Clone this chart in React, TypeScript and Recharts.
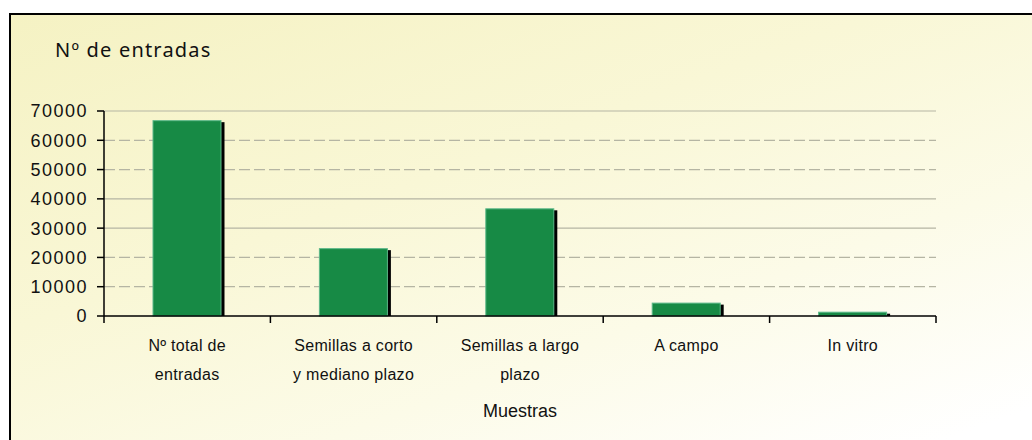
import React from 'react';
import { BarChart, Bar, XAxis, YAxis, CartesianGrid, Label } from 'recharts';

const categories = ['Nº total de\nentradas', 'Semillas a corto\ny mediano plazo', 'Semillas a largo\nplazo', 'A campo', 'In vitro'];
const values = [66700, 23000, 36600, 4400, 1300];
const yTicks = [0, 10000, 20000, 30000, 40000, 50000, 60000, 70000];
const solidGridValues = [70000, 40000, 30000];
const dashedGridValues = [60000, 50000, 20000, 10000];
const yAxisTitle = 'Nº de entradas';
const xAxisTitle = 'Muestras';

const data = categories.map((c, i) => ({ name: c, value: values[i] }));

const FONT = '"Liberation Sans", Arial, sans-serif';

const ShadowBar = (props: any) => {
  const { x, y, width, height } = props;
  if (!height || height <= 0) return null;
  return (
    <g>
      <rect x={x + 3.5} y={y + 1.5} width={width} height={Math.max(0, height - 1.5)} fill="#000000" />
      <rect x={x} y={y} width={width} height={height} fill="#178a45" stroke="#5cb889" strokeWidth={1} />
    </g>
  );
};

const CategoryTick = (props: any) => {
  const { x, y, payload, index } = props;
  const half = payload && typeof payload.offset === 'number' ? payload.offset : 0;
  const lines = String(payload.value).split('\n');
  const isLast = index === categories.length - 1;
  return (
    <g>
      <line x1={x - half} x2={x - half} y1={y} y2={y + 7} stroke="#000" strokeWidth={1.5} />
      {isLast && <line x1={x + half} x2={x + half} y1={y} y2={y + 7} stroke="#000" strokeWidth={1.5} />}
      <text x={x} y={y} textAnchor="middle" fill="#111111" fontSize={16} fontFamily={FONT} letterSpacing={0.3}>
        {lines.map((l, i) => (
          <tspan key={i} x={x} dy={i === 0 ? 35 : 29}>{l}</tspan>
        ))}
      </text>
    </g>
  );
};

export default function App() {
  return (
    <div style={{ position: 'absolute', left: 0, top: 0, width: 1032, height: 440, overflow: 'hidden', background: '#ffffff' }}>
      <div
        style={{
          position: 'absolute',
          left: 9,
          top: 13,
          width: 1100,
          height: 500,
          borderLeft: '2px solid #000',
          borderTop: '2px solid #000',
          background: 'linear-gradient(160deg, #f5f2c3 0%, #f9f7d6 35%, #fcfbe8 60%, #ffffff 85%)',
        }}
      />
      <div
        style={{
          position: 'absolute',
          left: 55,
          top: 36,
          fontFamily: '"Noto Sans", "Open Sans", sans-serif',
          fontSize: 20,
          letterSpacing: 1.2,
          color: '#111111',
          whiteSpace: 'nowrap',
        }}
      >
        {yAxisTitle}
      </div>
      <div style={{ position: 'absolute', left: 0, top: 0 }}>
        <BarChart width={1032} height={440} data={data} margin={{ top: 111, right: 96, bottom: 0, left: 44 }}>
          <CartesianGrid
            vertical={false}
            horizontalValues={solidGridValues}
            stroke="#b5b5a3"
            strokeWidth={1.2}
          />
          <CartesianGrid
            vertical={false}
            horizontalValues={dashedGridValues}
            stroke="#b5b5a3"
            strokeWidth={1.2}
            strokeDasharray="11 4"
          />
          <XAxis
            dataKey="name"
            height={124}
            axisLine={{ stroke: '#000', strokeWidth: 1.5 }}
            tickLine={false}
            tickSize={0}
            tickMargin={0}
            interval={0}
            tick={CategoryTick}
          >
            <Label
              value={xAxisTitle}
              position="insideBottom"
              offset={23}
              fill="#111111"
              fontSize={18}
              fontFamily={FONT}
            />
          </XAxis>
          <YAxis
            width={60}
            domain={[0, 70000]}
            ticks={yTicks}
            interval={0}
            axisLine={{ stroke: '#000', strokeWidth: 1.5 }}
            tickLine={{ stroke: '#000', strokeWidth: 1.5 }}
            tickSize={7}
            tickMargin={9}
            tick={{ fill: '#111111', fontSize: 18, fontFamily: FONT, letterSpacing: 1.5 }}
          />
          <Bar dataKey="value" barSize={68} shape={ShadowBar} isAnimationActive={false} />
        </BarChart>
      </div>
    </div>
  );
}
